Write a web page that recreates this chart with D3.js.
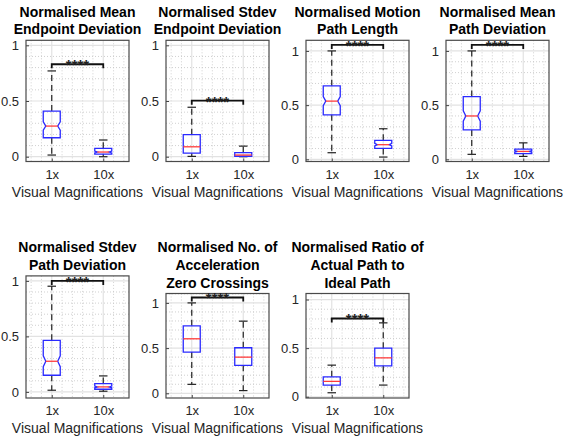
<!DOCTYPE html>
<html>
<head>
<meta charset="utf-8">
<script src="https://cdn.jsdelivr.net/npm/d3@7"></script>
<style>
  body { margin: 0; background: #fff; }
  svg { font-family: "Liberation Sans", Arial, sans-serif; }
</style>
</head>
<body>
<svg width="565" height="437"></svg>
<script>
// ---- data ----
const titles = [
    ["Normalised Mean", "Endpoint Deviation"],
    ["Normalised Stdev", "Endpoint Deviation"],
    ["Normalised Motion", "Path Length"],
    ["Normalised Mean", "Path Deviation"],
    ["Normalised Stdev", "Path Deviation"],
    ["Normalised No. of", "Acceleration", "Zero Crossings"],
    ["Normalised Ratio of", "Actual Path to", "Ideal Path"]
];
const groups = ["1x", "10x"];
const xLabel = "Visual Magnifications";
const yTicks = [0, 0.5, 1];

// per panel: [1x, 10x]
const whiskerLow = [[0.015, 0.0], [0.003, 0.0], [0.061, 0.021], [0.046, 0.027], [0.015, 0.006], [0.099, 0.03], [0.041, 0.12]];
const q1 = [[0.17, 0.024], [0.032, 0.004], [0.411, 0.101], [0.271, 0.052], [0.15, 0.024], [0.456, 0.309], [0.12, 0.318]];
const medians = [[0.275, 0.042], [0.089, 0.015], [0.537, 0.135], [0.40, 0.073], [0.276, 0.045], [0.603, 0.40], [0.158, 0.40]];
const q3 = [[0.41, 0.075], [0.198, 0.036], [0.678, 0.175], [0.579, 0.095], [0.465, 0.075], [0.746, 0.504], [0.205, 0.50]];
const whiskerHigh = [[0.77, 0.15], [0.444, 0.095], [1.0, 0.282], [1.0, 0.152], [0.952, 0.144], [1.0, 0.798], [0.325, 0.76]];
const notched = [true, false, true, true, true, false, false];
const sigLevel = [0.83, 0.503, 1.055, 1.055, 1.0, 1.06, 0.805];
const sigText = ["****", "****", "****", "****", "****", "****", "****"];
const yLimits = [[-0.043, 1.045], [-0.043, 1.045], [-0.02, 1.098], [-0.02, 1.098], [-0.055, 1.045], [-0.052, 1.104], [-0.013, 1.062]];
const xLimits = [0.5, 2.5];

// ---- layout ----
const svg = d3.select("svg");
const colLeft = [26, 166, 306, 446];
const axW = 103;
const rowTitleBase = [16.7, 252.3];
const rowBottom = [161.5, 398];
const lineH = 17.6;
const boxWidth = 0.33;

const drawPanel = i => {
    const row = i < 4 ? 0 : 1;
    const col = row ? i - 4 : i;
    const left = colLeft[col];
    const top = rowTitleBase[row] + (titles[i].length - 1) * lineH + 6;
    const bottom = rowBottom[row];

    const x = d3.scaleLinear().domain(xLimits).range([left, left + axW]);
    const y = d3.scaleLinear().domain(yLimits[i]).range([bottom, top]);
    const g = svg.append('g');

    // minor grid
    const yMinor = d3.range(-0.1, 1.2, 0.1).map(v => +v.toFixed(2))
        .filter(v => v > yLimits[i][0] && v < yLimits[i][1] && Math.abs(v * 2 - Math.round(v * 2)) > 1e-6);
    const xMinor = d3.range(0.6, 2.5, 0.2).map(v => +v.toFixed(2))
        .filter(v => Math.abs(v - Math.round(v)) > 1e-6);
    g.selectAll('.ymin').data(yMinor).enter().append('line')
        .attr('x1', left).attr('x2', left + axW)
        .attr('y1', d => y(d)).attr('y2', d => y(d))
        .attr('stroke', '#c4c4c4').attr('stroke-width', 0.8).attr('stroke-dasharray', '1,2');
    g.selectAll('.xmin').data(xMinor).enter().append('line')
        .attr('y1', top).attr('y2', bottom)
        .attr('x1', d => x(d)).attr('x2', d => x(d))
        .attr('stroke', '#c4c4c4').attr('stroke-width', 0.8).attr('stroke-dasharray', '1,2');

    // major grid
    g.selectAll('.ymaj').data(yTicks).enter().append('line')
        .attr('x1', left).attr('x2', left + axW)
        .attr('y1', d => y(d)).attr('y2', d => y(d))
        .attr('stroke', '#e2e2e2').attr('stroke-width', 1.2);
    g.selectAll('.xmaj').data([1, 2]).enter().append('line')
        .attr('y1', top).attr('y2', bottom)
        .attr('x1', d => x(d)).attr('x2', d => x(d))
        .attr('stroke', '#e2e2e2').attr('stroke-width', 1.2);

    // axes
    const yAxisG = g.append('g')
        .attr('transform', `translate(${left},0)`)
        .call(d3.axisLeft(y).tickValues(yTicks).tickFormat(d3.format('~g')).tickSize(-3).tickPadding(7));
    const xAxisG = g.append('g')
        .attr('transform', `translate(0,${bottom})`)
        .call(d3.axisBottom(x).tickValues([1, 2]).tickFormat(d => groups[d - 1]).tickSize(-3).tickPadding(8));
    [yAxisG, xAxisG].forEach(a => {
        a.select('.domain').remove();
        a.selectAll('.tick line').attr('stroke', '#444');
        a.selectAll('text').attr('fill', '#262626').attr('font-size', 13);
    });

    g.append('rect')
        .attr('x', left).attr('y', top)
        .attr('width', axW).attr('height', bottom - top)
        .attr('fill', 'none').attr('stroke', '#4a4a4a').attr('stroke-width', 1.2);

    // boxes
    const hw = x(1 + boxWidth / 2) - x(1);
    groups.forEach((grp, k) => {
        const cx = x(k + 1);
        const lo = whiskerLow[i][k], a = q1[i][k], m = medians[i][k], b = q3[i][k], hi = whiskerHigh[i][k];
        const inset = notched[i] ? hw * 0.3 : 0;
        const nh = notched[i] ? Math.min(0.155 * (b - a), m - a, b - m) : 0;

        // whiskers
        g.append('line').attr('x1', cx).attr('x2', cx).attr('y1', y(b)).attr('y2', y(hi))
            .attr('stroke', '#222').attr('stroke-width', 1.2).attr('stroke-dasharray', '6,4');
        g.append('line').attr('x1', cx).attr('x2', cx).attr('y1', y(a)).attr('y2', y(lo))
            .attr('stroke', '#222').attr('stroke-width', 1.2).attr('stroke-dasharray', '6,4');
        [lo, hi].forEach(v => {
            g.append('line').attr('x1', cx - hw / 2).attr('x2', cx + hw / 2)
                .attr('y1', y(v)).attr('y2', y(v))
                .attr('stroke', '#222').attr('stroke-width', 1.2);
        });

        const x0 = cx - hw, x1 = cx + hw;
        const p = d3.path();
        p.moveTo(x0, y(b));
        p.lineTo(x1, y(b));
        p.lineTo(x1, y(m + nh));
        p.lineTo(x1 - inset, y(m));
        p.lineTo(x1, y(m - nh));
        p.lineTo(x1, y(a));
        p.lineTo(x0, y(a));
        p.lineTo(x0, y(m - nh));
        p.lineTo(x0 + inset, y(m));
        p.lineTo(x0, y(m + nh));
        p.closePath();
        g.append('path').attr('d', p.toString())
            .attr('fill', 'none').attr('stroke', '#2a2aff').attr('stroke-width', 1.3);

        g.append('line').attr('x1', x0 + inset).attr('x2', x1 - inset)
            .attr('y1', y(m)).attr('y2', y(m))
            .attr('stroke', '#ff3b3b').attr('stroke-width', 1.3);
    });

    // significance bracket
    const sy = y(sigLevel[i]);
    g.append('path')
        .attr('d', `M${x(1)},${sy + 4}V${sy}H${x(2)}V${sy + 4}`)
        .attr('fill', 'none').attr('stroke', '#111').attr('stroke-width', 1.8);
    g.append('text')
        .attr('x', (x(1) + x(2)) / 2).attr('y', sy + 6)
        .attr('text-anchor', 'middle').attr('font-size', 15).attr('font-weight', 'bold').attr('fill', '#222')
        .text(sigText[i]);

    // title
    titles[i].forEach((t, k) => {
        g.append('text')
            .attr('x', left + axW / 2).attr('y', rowTitleBase[row] + k * lineH)
            .attr('text-anchor', 'middle').attr('font-size', 14).attr('font-weight', 'bold')
            .attr('fill', '#000').text(t);
    });

    // x label
    g.append('text')
        .attr('x', left + axW / 2).attr('y', bottom + 35)
        .attr('text-anchor', 'middle').attr('font-size', 14).attr('fill', '#262626')
        .text(xLabel);
};

titles.forEach((t, i) => drawPanel(i));
</script>
</body>
</html>
